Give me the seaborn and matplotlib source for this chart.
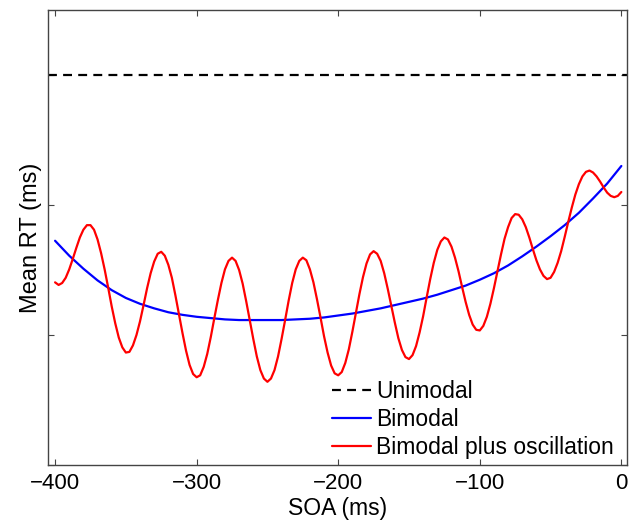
import numpy as np
import matplotlib
matplotlib.use("Agg")
import matplotlib.pyplot as plt
import seaborn as sns

# DATA

# bimodal model, every 10 ms
SOA_BIMODAL = np.arange(-400, 1, 10)
BIMODAL_RT = [
    334.5, 332.2, 330.2, 328.4, 326.9, 325.7, 324.8, 324.1, 323.5, 323.1,
    322.8, 322.6, 322.4, 322.3, 322.3, 322.3, 322.3, 322.4, 322.5, 322.7,
    323.0, 323.3, 323.7, 324.1, 324.6, 325.1, 325.6, 326.2, 326.9, 327.6,
    328.5, 329.5, 330.7, 332.1, 333.6, 335.2, 336.9, 338.8, 341.0, 343.3,
    346.0,
]

# bimodal plus oscillation, every 2.5 ms
SOA_OSC = np.arange(-400, 0.1, 2.5)
OSC_RT = [
    328.1, 327.7, 328.0, 328.8, 330.1, 331.7, 333.4, 335.0, 336.2, 336.9,
    336.9, 336.2, 334.7, 332.6, 330.1, 327.3, 324.4, 321.8, 319.6, 318.1,
    317.3, 317.4, 318.4, 320.0, 322.1, 324.6, 327.2, 329.5, 331.3, 332.5,
    332.8, 332.2, 330.8, 328.8, 326.1, 323.2, 320.3, 317.6, 315.4, 314.0,
    313.5, 313.8, 315.1, 317.1, 319.7, 322.6, 325.4, 328.0, 330.1, 331.4,
    331.9, 331.4, 330.0, 327.9, 325.2, 322.3, 319.4, 316.7, 314.6, 313.3,
    312.8, 313.3, 314.6, 316.7, 319.4, 322.3, 325.3, 328.0, 330.1, 331.4,
    331.9, 331.5, 330.1, 328.1, 325.5, 322.7, 319.8, 317.3, 315.3, 314.1,
    313.8, 314.3, 315.7, 317.8, 320.5, 323.4, 326.3, 328.9, 331.0, 332.4,
    332.9, 332.5, 331.4, 329.5, 327.1, 324.5, 321.9, 319.5, 317.7, 316.6,
    316.3, 316.9, 318.3, 320.4, 322.9, 325.8, 328.6, 331.1, 333.1, 334.4,
    335.0, 334.7, 333.6, 331.9, 329.8, 327.4, 325.1, 323.1, 321.6, 320.8,
    320.7, 321.4, 322.8, 324.8, 327.2, 329.8, 332.4, 334.8, 336.6, 338.0,
    338.6, 338.5, 337.8, 336.6, 335.0, 333.2, 331.5, 330.1, 329.1, 328.6,
    328.8, 329.7, 331.1, 332.9, 335.1, 337.4, 339.6, 341.6, 343.2, 344.4,
    345.1, 345.3, 345.0, 344.4, 343.6, 342.7, 341.9, 341.4, 341.2, 341.4,
    342.0,
]

UNIMODAL_RT = 360
X_TICKS = [-400, -300, -200, -100, 0]
Y_TICKS = [300, 320, 340, 360]

# PLOT

sns.set_theme(style="ticks")
plt.rcParams['font.family'] = ['Liberation Sans', 'DejaVu Sans']
plt.rcParams['text.color'] = 'black'
plt.rcParams['axes.labelcolor'] = 'black'
plt.rcParams['xtick.color'] = 'black'
plt.rcParams['ytick.color'] = 'black'

fig = plt.figure(figsize=(6.32, 5.2), dpi=100)
ax = fig.add_axes([48 / 632, 1 - 465 / 520, 579 / 632, 455 / 520])

ax.axhline(UNIMODAL_RT, color='black', lw=1.6, dashes=(4, 2.8), label='Unimodal')
sns.lineplot(x=SOA_BIMODAL, y=BIMODAL_RT, color=(0, 0, 1), lw=1.6,
             label='Bimodal', ax=ax)
sns.lineplot(x=SOA_OSC, y=OSC_RT, color=(1, 0, 0), lw=1.6,
             label='Bimodal plus oscillation', ax=ax)

ax.set_xlim(-405, 4)
ax.set_ylim(300, 370)
ax.set_xticks(X_TICKS)
ax.set_yticks(Y_TICKS)
ax.set_yticklabels([])
ax.tick_params(direction='in', length=4.5, width=0.8, color='#444444',
               top=True, right=True, labelsize=16, pad=6)
for s in ax.spines.values():
    s.set_color('#444444')
    s.set_linewidth(1.0)

ax.set_xlabel('SOA (ms)', fontsize=16.5, labelpad=2)
ax.set_ylabel('Mean RT (ms)', fontsize=17, labelpad=-2)

ax.legend(loc='lower left', bbox_to_anchor=(0.49, 0.013), frameon=False,
          fontsize=16.5, handlelength=1.7, handletextpad=0.25,
          labelspacing=0.22, borderpad=0, borderaxespad=0)

fig.savefig('out.png', dpi=100)
